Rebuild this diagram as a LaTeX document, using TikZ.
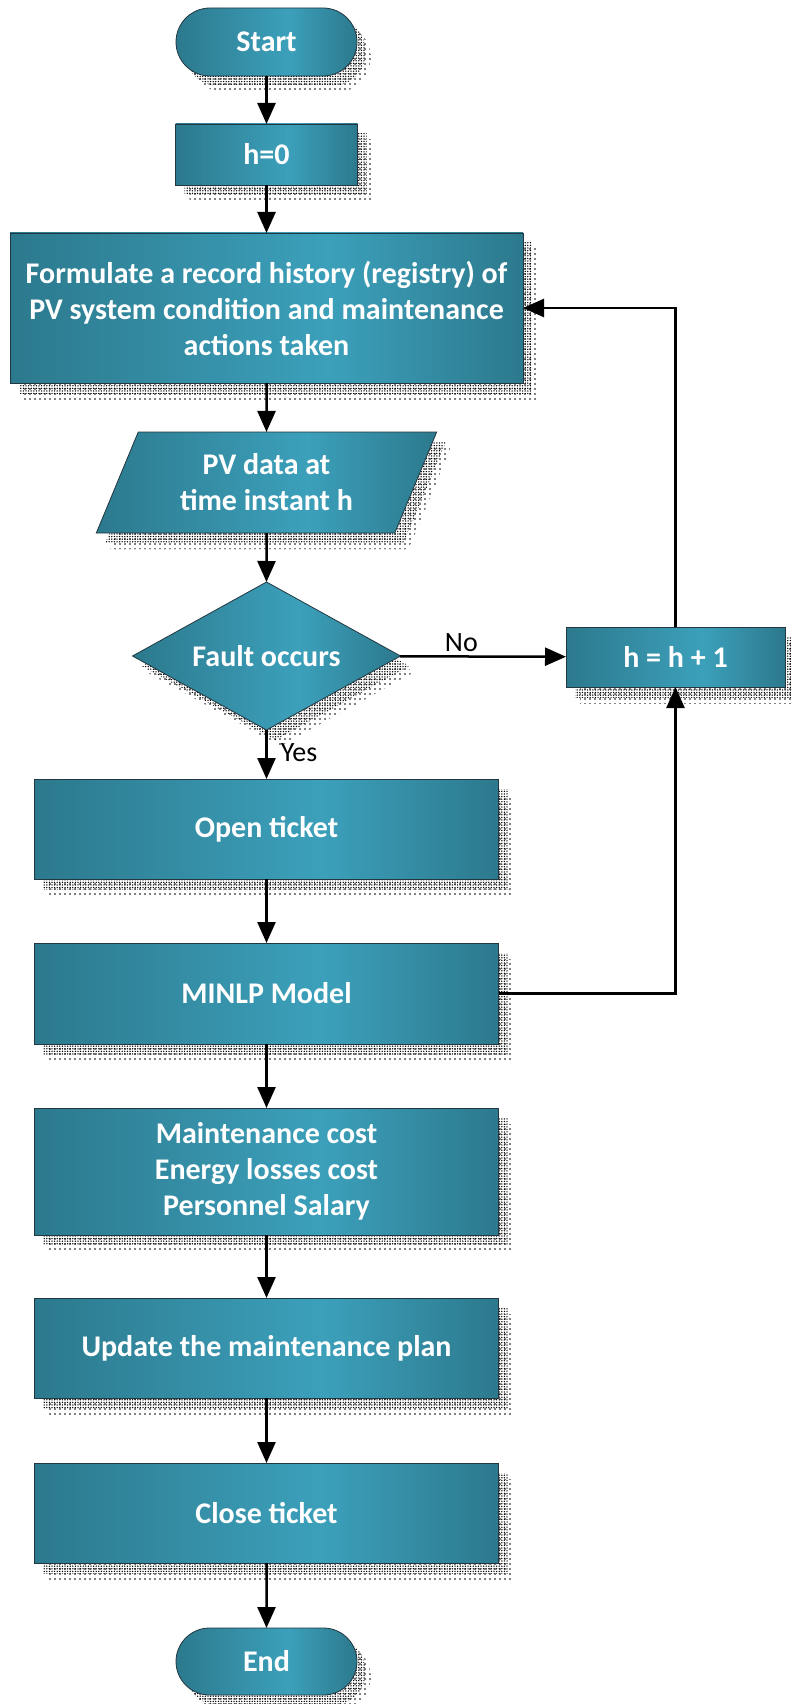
\documentclass[tikz,border=0pt]{standalone}
\usepackage{fontspec}
\setmainfont{Carlito}
\usetikzlibrary{shapes.geometric,shapes.misc,arrows.meta,shadows,patterns.meta}
\definecolor{tdark}{RGB}{44,121,141}
\definecolor{tlight}{RGB}{60,160,187}
\definecolor{tedge}{RGB}{35,55,65}
\pgfdeclarehorizontalshading{tealshade}{100bp}{color(0bp)=(tdark); color(25bp)=(tdark); color(56bp)=(tlight); color(75bp)=(tdark); color(100bp)=(tdark)}
\begin{document}
\begin{tikzpicture}[x=1pt,y=-1pt,
  base/.style={draw=tedge, line width=0.8pt, shading=tealshade, text=white,
    font=\fontsize{30}{36}\selectfont\bfseries, align=center, inner sep=0pt, outer sep=0pt,
    general shadow={shadow xshift=14pt, shadow yshift=-16pt, pattern={Dots[distance=5pt, radius=0.8pt]}, pattern color=black, draw=none},
    general shadow={shadow xshift=9pt, shadow yshift=-10pt, pattern={Dots[distance=2.6pt, radius=0.75pt]}, pattern color=black, draw=none}},
  procbox/.style={base, rectangle, minimum width=464pt, minimum height=100pt},
  termbox/.style={base, rounded rectangle, minimum width=181pt, minimum height=68pt},
  iobox/.style={base, trapezium, trapezium left angle=63.7, trapezium right angle=116.3,
    trapezium stretches=true, minimum width=341pt, minimum height=101pt},
  decbox/.style={base, diamond, aspect=1.81, minimum width=268pt, minimum height=148pt},
  arr/.style={line width=2.5pt, -{Triangle[length=21pt,width=18pt]}},
  lab/.style={font=\fontsize{28}{32}\selectfont, text=black, inner sep=0pt}]
\useasboundingbox (0,0) rectangle (791,1704);

\node[termbox] (start) at (266.5,42) {Start};
\node[base, rectangle, minimum width=182pt, minimum height=61pt] (h0) at (266.5,154.5) {h=0};
\node[base, rectangle, minimum width=513pt, minimum height=150pt] (form) at (266.5,308)
  {Formulate a record history (registry) of\\PV system condition and maintenance\\actions taken};
\node[iobox] (pv) at (266.5,482.5) {PV data at\\time instant h};
\node[decbox] (fault) at (266.5,656) {Fault occurs};
\node[base, rectangle, minimum width=219pt, minimum height=60pt] (hh1) at (675.5,657) {h = h + 1};
\node[procbox] (open) at (266.5,829) {Open ticket};
\node[procbox, minimum height=101pt] (minlp) at (266.5,993.5) {MINLP Model};
\node[procbox, minimum height=127pt] (cost) at (266.5,1171.5) {Maintenance cost\\Energy losses cost\\Personnel Salary};
\node[procbox] (update) at (266.5,1348) {Update the maintenance plan};
\node[procbox] (close) at (266.5,1513) {Close ticket};
\node[termbox, minimum height=67pt] (end) at (266.5,1661.5) {End};

\draw[arr] (start) -- (h0);
\draw[arr] (h0) -- (form);
\draw[arr] (form) -- (pv);
\draw[arr] (pv) -- (fault);
\draw[arr] (fault) -- node[lab, pos=0.47, anchor=west, xshift=13pt] {Yes} (open);
\draw[arr] (fault) -- node[lab, pos=0.37, yshift=14pt] {No} (hh1);
\draw[arr] (open) -- (minlp);
\draw[arr] (minlp) -- (cost);
\draw[arr] (cost) -- (update);
\draw[arr] (update) -- (close);
\draw[arr] (close) -- (end);
\draw[arr] (minlp.east) -| (hh1.south);
\draw[arr] (hh1.north) |- (form.east);
\end{tikzpicture}
\end{document}
